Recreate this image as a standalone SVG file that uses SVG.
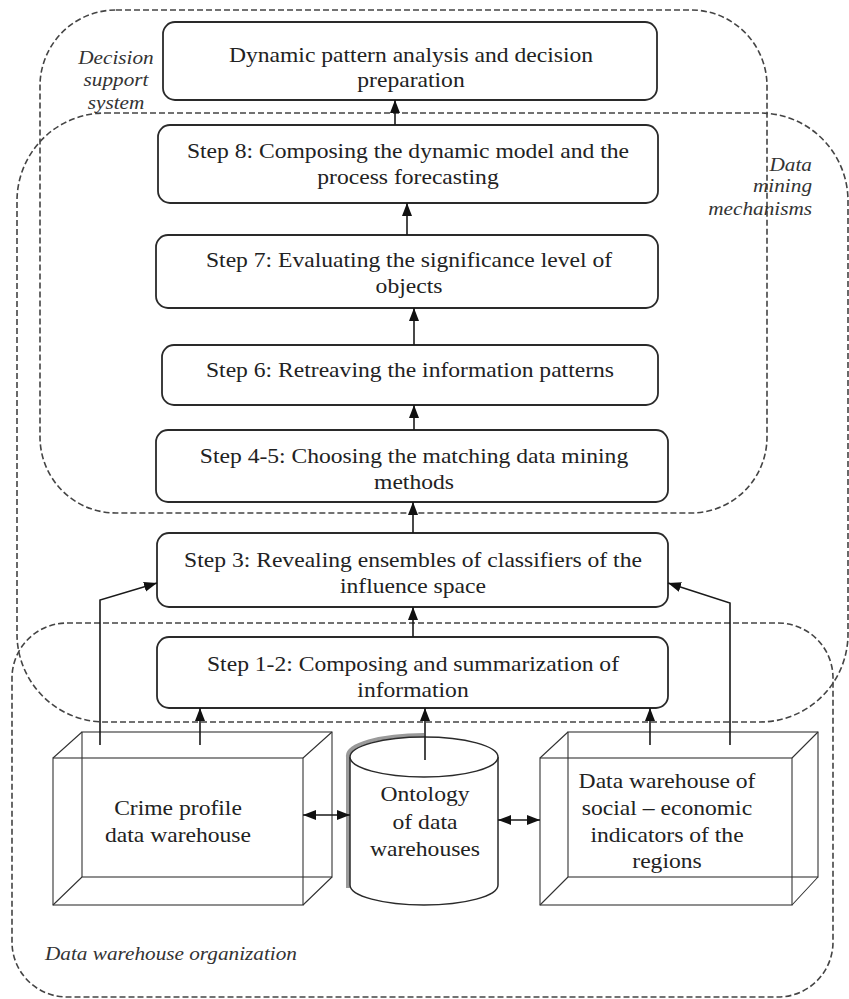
<svg xmlns="http://www.w3.org/2000/svg" width="849" height="999" viewBox="0 0 849 999">
<style>
.bg{fill:#fff}
.reg{fill:none;stroke:#444;stroke-width:1.6;stroke-dasharray:6 3}
.box{fill:#fff;stroke:#2a2a2a;stroke-width:1.8}
.wire{fill:none;stroke:#333;stroke-width:1.1}
.cyl{fill:#fff;stroke:#2a2a2a;stroke-width:1.5}
.shade{fill:none;stroke:#9a9a9a;stroke-width:4}
.ln{fill:none;stroke:#1a1a1a;stroke-width:1.6}
.t{font-family:"Liberation Serif","Times New Roman",serif;font-size:20px;fill:#222;text-anchor:middle}
.i{font-family:"Liberation Serif","Times New Roman",serif;font-style:italic;font-size:18px;fill:#333}
.mid{text-anchor:middle}
.end{text-anchor:end}
.start{text-anchor:start}
</style>
<defs>
<marker id="ah" viewBox="0 0 13 11" refX="13" refY="5.5" markerWidth="13" markerHeight="11" markerUnits="userSpaceOnUse" orient="auto-start-reverse">
<path d="M0,0.5 L13,5.5 L0,10.5 z" fill="#111"/>
</marker>
</defs>
<rect class="bg" x="0" y="0" width="849" height="999"/>

<g id="regions">
<rect id="decision-support" class="reg" x="40" y="10" width="727" height="503" rx="76" ry="76"/>
<rect id="data-mining" class="reg" x="17" y="113" width="831" height="609" rx="88" ry="88"/>
<rect id="dw-organization" class="reg" x="12" y="623" width="821" height="374" rx="55" ry="55"/>
<text class="i mid" transform="translate(116 64) scale(1.18 1)">Decision</text>
<text class="i mid" transform="translate(116 86) scale(1.18 1)">support</text>
<text class="i mid" transform="translate(116 109) scale(1.18 1)">system</text>
<text class="i end" transform="translate(812 171) scale(1.18 1)">Data</text>
<text class="i end" transform="translate(812 192) scale(1.18 1)">mining</text>
<text class="i end" transform="translate(812 215) scale(1.18 1)">mechanisms</text>
<text class="i start" transform="translate(45 960) scale(1.18 1)">Data warehouse organization</text>
</g>

<g id="n-dynamic">
<rect class="box" x="163" y="22" width="494" height="78" rx="12"/>
<text class="t" transform="translate(411 62) scale(1.18 1)">Dynamic pattern analysis and decision</text>
<text class="t" transform="translate(411 87) scale(1.18 1)">preparation</text>
</g>
<g id="n-step8">
<rect class="box" x="158" y="125" width="500" height="78" rx="12"/>
<text class="t" transform="translate(408 158) scale(1.18 1)">Step 8: Composing the dynamic model and the</text>
<text class="t" transform="translate(408 184) scale(1.18 1)">process forecasting</text>
</g>
<g id="n-step7">
<rect class="box" x="156" y="235" width="502" height="73" rx="12"/>
<text class="t" transform="translate(409 267) scale(1.18 1)">Step 7: Evaluating the significance level of</text>
<text class="t" transform="translate(409 293) scale(1.18 1)">objects</text>
</g>
<g id="n-step6">
<rect class="box" x="162" y="345" width="496" height="60" rx="12"/>
<text class="t" transform="translate(410 377) scale(1.18 1)">Step 6: Retreaving the information patterns</text>
</g>
<g id="n-step45">
<rect class="box" x="156" y="430" width="512" height="72" rx="12"/>
<text class="t" transform="translate(414 463) scale(1.18 1)">Step 4-5: Choosing the matching data mining</text>
<text class="t" transform="translate(414 489) scale(1.18 1)">methods</text>
</g>
<g id="n-step3">
<rect class="box" x="157" y="533" width="511" height="74" rx="12"/>
<text class="t" transform="translate(413 567) scale(1.18 1)">Step 3: Revealing ensembles of classifiers of the</text>
<text class="t" transform="translate(413 593) scale(1.18 1)">influence space</text>
</g>
<g id="n-step12">
<rect class="box" x="157" y="637" width="511" height="71" rx="12"/>
<text class="t" transform="translate(413 671) scale(1.18 1)">Step 1-2: Composing and summarization of</text>
<text class="t" transform="translate(413 697) scale(1.18 1)">information</text>
</g>

<g id="n-crime">
<rect class="wire" x="82" y="732" width="250" height="145"/>
<rect class="wire" x="53" y="758" width="250" height="147"/>
<path class="wire" d="M53,758 L82,732 M303,758 L332,732 M53,905 L82,877 M303,905 L332,877"/>
<text class="t" transform="translate(178 815) scale(1.18 1)">Crime profile</text>
<text class="t" transform="translate(178 842) scale(1.18 1)">data warehouse</text>
</g>
<g id="n-ontology">
<path class="shade" d="M348,888 L348,757 A76,21 0 0 1 424,735"/>
<path class="cyl" d="M350,757 L350,885 A74,20 0 0 0 498,885 L498,757"/>
<ellipse class="cyl" cx="424" cy="757" rx="74" ry="20"/>
<text class="t" transform="translate(425 801) scale(1.18 1)">Ontology</text>
<text class="t" transform="translate(425 829) scale(1.18 1)">of data</text>
<text class="t" transform="translate(425 856) scale(1.18 1)">warehouses</text>
</g>
<g id="n-social">
<rect class="wire" x="568" y="732" width="250" height="145"/>
<rect class="wire" x="540" y="758" width="252" height="147"/>
<path class="wire" d="M540,758 L568,732 M792,758 L818,732 M540,905 L568,877 M792,905 L818,877"/>
<text class="t" transform="translate(667 788) scale(1.18 1)">Data warehouse of</text>
<text class="t" transform="translate(667 815) scale(1.18 1)">social – economic</text>
<text class="t" transform="translate(667 842) scale(1.18 1)">indicators of the</text>
<text class="t" transform="translate(667 868) scale(1.18 1)">regions</text>
</g>

<g id="connectors">
<path class="ln" marker-end="url(#ah)" d="M395,125 L395,100"/>
<path class="ln" marker-end="url(#ah)" d="M407,235 L407,203"/>
<path class="ln" marker-end="url(#ah)" d="M414,345 L414,308"/>
<path class="ln" marker-end="url(#ah)" d="M414,430 L414,405"/>
<path class="ln" marker-end="url(#ah)" d="M413,533 L413,502"/>
<path class="ln" marker-end="url(#ah)" d="M413,637 L413,607"/>
<path class="ln" marker-end="url(#ah)" d="M200,745 L200,708"/>
<path class="ln" marker-end="url(#ah)" d="M425,760 L425,708"/>
<path class="ln" marker-end="url(#ah)" d="M650,745 L650,708"/>
<path class="ln" marker-end="url(#ah)" d="M100,745 L100,600 L157,583"/>
<path class="ln" marker-end="url(#ah)" d="M730,745 L730,603 L668,583"/>
<path class="ln" marker-start="url(#ah)" marker-end="url(#ah)" d="M303,815 L350,815"/>
<path class="ln" marker-start="url(#ah)" marker-end="url(#ah)" d="M498,820 L540,820"/>
</g>
</svg>
